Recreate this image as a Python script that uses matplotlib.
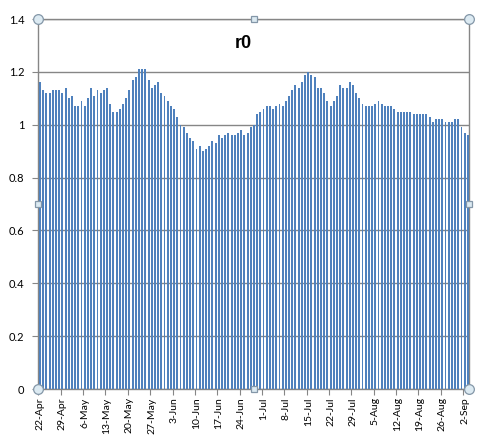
import numpy as np
import matplotlib
matplotlib.use("Agg")
import matplotlib.pyplot as plt

# r0 values per day, 22-Apr .. 3-Sep
r0 = [1.16, 1.13, 1.12, 1.12, 1.13, 1.13, 1.13, 1.12, 1.14, 1.10,
      1.11, 1.07, 1.07, 1.09, 1.07, 1.10, 1.14, 1.11, 1.13, 1.12,
      1.13, 1.14, 1.08, 1.05, 1.05, 1.06, 1.08, 1.10, 1.13, 1.17,
      1.18, 1.21, 1.21, 1.21, 1.17, 1.14, 1.15, 1.16, 1.12, 1.11,
      1.09, 1.07, 1.06, 1.03, 1.00, 0.99, 0.97, 0.95, 0.94, 0.91,
      0.92, 0.90, 0.91, 0.92, 0.94, 0.93, 0.96, 0.95, 0.96, 0.97,
      0.96, 0.96, 0.97, 0.98, 0.96, 0.97, 0.99, 1.00, 1.04, 1.05,
      1.06, 1.07, 1.07, 1.06, 1.07, 1.08, 1.07, 1.09, 1.11, 1.13,
      1.15, 1.14, 1.16, 1.19, 1.20, 1.19, 1.18, 1.14, 1.14, 1.12,
      1.09, 1.07, 1.09, 1.11, 1.15, 1.14, 1.14, 1.16, 1.15, 1.12,
      1.10, 1.08, 1.07, 1.07, 1.07, 1.08, 1.09, 1.08, 1.07, 1.07,
      1.07, 1.06, 1.05, 1.05, 1.05, 1.05, 1.05, 1.04, 1.04, 1.04,
      1.04, 1.04, 1.03, 1.01, 1.02, 1.02, 1.02, 1.01, 1.01, 1.01,
      1.02, 1.02, 0.99, 0.97, 0.96]

# one label every 7 days
tick_labels = ['22-Apr', '29-Apr', '6-May', '13-May', '20-May', '27-May',
               '3-Jun', '10-Jun', '17-Jun', '24-Jun', '1-Jul', '8-Jul',
               '15-Jul', '22-Jul', '29-Jul', '5-Aug', '12-Aug', '19-Aug',
               '26-Aug', '2-Sep']
y_ticks = [0, 0.2, 0.4, 0.6, 0.8, 1, 1.2, 1.4]

plt.rcParams['font.family'] = ['Lato', 'DejaVu Sans']
grid_col = '#868686'

fig = plt.figure(figsize=(4.85, 4.4), dpi=100)
ax = fig.add_axes([0.0792, 0.1159, 0.8888, 0.8409])

x = np.arange(len(r0))
ax.bar(x, r0, width=0.6, color='#4F81BD', zorder=3)

ax.set_xlim(-0.5, len(r0) - 0.5)
ax.set_ylim(0, 1.4)

ax.set_yticks(y_ticks)
ax.set_yticklabels(['0', '0.2', '0.4', '0.6', '0.8', '1', '1.2', '1.4'])
ax.yaxis.grid(True, color=grid_col, lw=1.0, zorder=1)
ax.tick_params(axis='y', length=4, width=0.8, color=grid_col,
               labelsize=8, pad=6)

# labels on every 7th category, tick marks on category boundaries
ax.set_xticks(x[::7])
ax.set_xticklabels(tick_labels, rotation=90, fontsize=7.5)
ax.tick_params(axis='x', which='major', length=0, pad=6)
ax.set_xticks(np.arange(-0.5, len(r0), 7), minor=True)
ax.tick_params(axis='x', which='minor', length=4, width=0.8,
               color=grid_col)

for s in ax.spines.values():
    s.set_color(grid_col)
    s.set_linewidth(1.0)

# title is centred on the whole chart area, not the plot area
fig.text(0.501, 0.902, 'r0', ha='center', va='center',
         fontsize=13, fontweight='bold', family=['Liberation Sans'])

# selection handles on the plot area
hx = [0, 0.5, 1, 0, 1, 0, 0.5, 1]
hy = [1, 1, 1, 0.5, 0.5, 0, 0, 0]
hm = ['o', 's', 'o', 's', 's', 'o', 's', 'o']
for px, py, m in zip(hx, hy, hm):
    ax.plot(px, py, marker=m, ms=7 if m == 'o' else 5,
            mfc='#DCEAF2', mec='#8497A8', mew=0.9,
            transform=ax.transAxes, clip_on=False, zorder=10)

fig.savefig('out.png', dpi=100)
